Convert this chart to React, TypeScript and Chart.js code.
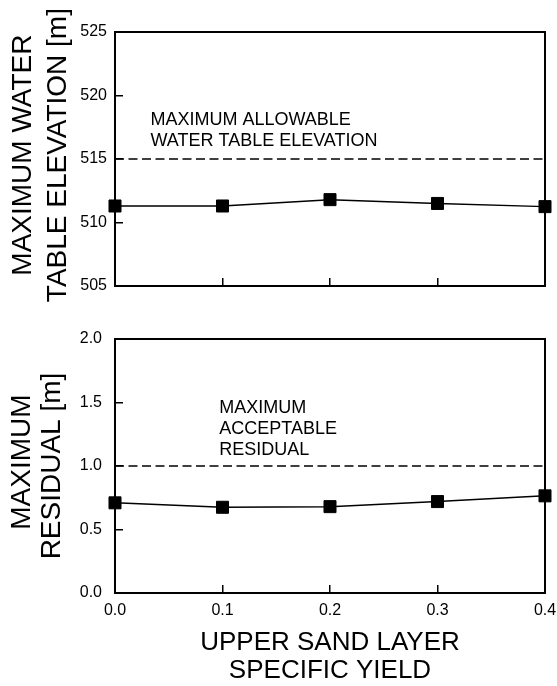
import React, { useEffect, useRef } from "react";
import { Chart, registerables } from "chart.js";

Chart.register(...registerables);

// ---- data ----
const specificYield = [0.0, 0.1, 0.2, 0.3, 0.4];
const maxWaterTableElevation = [511.3, 511.3, 511.8, 511.5, 511.25];
const maxResidual = [0.71, 0.675, 0.68, 0.72, 0.765];
const allowableElevation = 515;
const acceptableResidual = 1.0;

const elevationRange = [505, 525];
const elevationStep = 5;
const residualRange = [0, 2];
const residualStep = 0.5;
const yieldRange = [0, 0.4];
const yieldStep = 0.1;

const topTitleLines = [" MAXIMUM WATER", " TABLE ELEVATION [m]"];
const bottomTitleLines = [" MAXIMUM", "RESIDUAL [m]"];
const xTitleLines = ["UPPER SAND LAYER", "SPECIFIC YIELD"];
const topNoteLines = ["MAXIMUM ALLOWABLE", "WATER TABLE ELEVATION"];
const topNoteAnchor = [0.033, 518.1];
const bottomNoteLines = ["MAXIMUM", "ACCEPTABLE", "RESIDUAL"];
const bottomNoteAnchor = [0.097, 1.454];

const FONT = '"Liberation Sans", Arial, Helvetica, sans-serif';

const boxPlugin = {
  id: "boxPlugin",
  beforeDatasetsDraw(chart: any) {
    const { ctx, chartArea } = chart;
    ctx.save();
    ctx.strokeStyle = "#000";
    ctx.lineWidth = 2;
    ctx.strokeRect(
      chartArea.left,
      chartArea.top,
      chartArea.right - chartArea.left,
      chartArea.bottom - chartArea.top
    );
    ctx.restore();
  },
};

const notePlugin = {
  id: "notePlugin",
  afterDatasetsDraw(chart: any, _args: any, opts: any) {
    if (!opts || !opts.lines) return;
    const { ctx } = chart;
    const xs = chart.scales.x;
    const ys = chart.scales.y;
    const x = xs.getPixelForValue(opts.anchor[0]);
    const y = ys.getPixelForValue(opts.anchor[1]);
    ctx.save();
    ctx.fillStyle = "#000";
    ctx.font = `18px ${FONT}`;
    ctx.textAlign = "left";
    ctx.textBaseline = "middle";
    opts.lines.forEach((l: string, i: number) => {
      ctx.fillText(l, x, y + i * opts.spacing);
    });
    ctx.restore();
  },
};

function resetPad(s: any) {
  s.paddingTop = 0;
  s.paddingBottom = 0;
  s.paddingLeft = 0;
  s.paddingRight = 0;
}

function makeConfig(p: any): any {
  return {
    type: "line",
    data: {
      datasets: [
        {
          data: specificYield.map((x, i) => ({ x, y: p.values[i] })),
          borderColor: "#000",
          backgroundColor: "#000",
          borderWidth: 1.5,
          pointStyle: "rect",
          pointRadius: 8.5,
          pointBorderWidth: 1,
          pointBackgroundColor: "#000",
          pointBorderColor: "#000",
          tension: 0,
          clip: false,
        },
        {
          data: [
            { x: yieldRange[0], y: p.limit },
            { x: yieldRange[1], y: p.limit },
          ],
          borderColor: "#000",
          borderWidth: 1.5,
          borderDash: [9, 4.5],
          pointRadius: 0,
          tension: 0,
        },
      ],
    },
    options: {
      animation: false,
      responsive: false,
      maintainAspectRatio: false,
      events: [],
      layout: { padding: { top: p.padTop, right: 12, left: 0, bottom: 0 } },
      plugins: {
        legend: { display: false },
        tooltip: { enabled: false },
        notePlugin: { lines: p.noteLines, anchor: p.noteAnchor, spacing: p.noteSpacing },
      },
      scales: {
        x: {
          type: "linear",
          position: "bottom",
          min: yieldRange[0],
          max: yieldRange[1],
          border: { display: false },
          grid: {
            drawOnChartArea: false,
            drawTicks: true,
            tickLength: -8,
            color: "#000",
            lineWidth: 1.5,
          },
          ticks: {
            display: p.showXLabels,
            stepSize: yieldStep,
            padding: 16.4,
            color: "#000",
            font: { family: FONT, size: 16 },
            maxRotation: 0,
            callback: (v: any) => Number(v).toFixed(1),
          },
          title: {
            display: p.showXTitle,
            text: xTitleLines,
            color: "#000",
            font: { family: FONT, size: 26, lineHeight: 28 / 26 },
            padding: { top: 0, bottom: 1 },
          },
          afterFit: (s: any) => {
            s.height = p.xHeight;
            resetPad(s);
          },
        },
        y: {
          type: "linear",
          position: "left",
          min: p.range[0],
          max: p.range[1],
          border: { display: false },
          grid: {
            drawOnChartArea: false,
            drawTicks: true,
            tickLength: -8,
            color: "#000",
            lineWidth: 1.5,
          },
          ticks: {
            stepSize: p.step,
            padding: p.yPad,
            color: "#000",
            font: { family: FONT, size: 16 },
            callback: (v: any) => p.fmt(v),
          },
          title: {
            display: true,
            text: p.titleLines,
            color: "#000",
            font: { family: FONT, size: 28, lineHeight: p.titleLH / 28 },
            padding: { top: p.titlePadTop, bottom: 0 },
          },
          afterFit: (s: any) => {
            s.width = 115;
            resetPad(s);
          },
        },
      },
    },
    plugins: [boxPlugin, notePlugin],
  };
}

export default function App() {
  const topRef = useRef<HTMLCanvasElement>(null);
  const botRef = useRef<HTMLCanvasElement>(null);

  useEffect(() => {
    const top = new Chart(
      topRef.current as HTMLCanvasElement,
      makeConfig({
        values: maxWaterTableElevation,
        limit: allowableElevation,
        range: elevationRange,
        step: elevationStep,
        fmt: (v: number) => String(Math.round(v)),
        padTop: 32,
        xHeight: 34,
        showXLabels: false,
        showXTitle: false,
        yPad: 16,
        titleLines: topTitleLines,
        titleLH: 35,
        titlePadTop: 6,
        noteLines: topNoteLines,
        noteAnchor: topNoteAnchor,
        noteSpacing: 21.6,
      })
    );
    const bot = new Chart(
      botRef.current as HTMLCanvasElement,
      makeConfig({
        values: maxResidual,
        limit: acceptableResidual,
        range: residualRange,
        step: residualStep,
        fmt: (v: number) => Number(v).toFixed(1),
        padTop: 19,
        xHeight: 93,
        showXLabels: true,
        showXTitle: true,
        yPad: 21,
        titleLines: bottomTitleLines,
        titleLH: 30,
        titlePadTop: 7,
        noteLines: bottomNoteLines,
        noteAnchor: bottomNoteAnchor,
        noteSpacing: 21,
      })
    );
    return () => {
      top.destroy();
      bot.destroy();
    };
  }, []);

  return (
    <div
      style={{
        position: "absolute",
        left: 0,
        top: 0,
        width: 557,
        height: 686,
        background: "#fff",
      }}
    >
      <canvas
        ref={topRef}
        width={557}
        height={320}
        style={{ display: "block", width: 557, height: 320 }}
      />
      <canvas
        ref={botRef}
        width={557}
        height={366}
        style={{ display: "block", width: 557, height: 366 }}
      />
    </div>
  );
}
